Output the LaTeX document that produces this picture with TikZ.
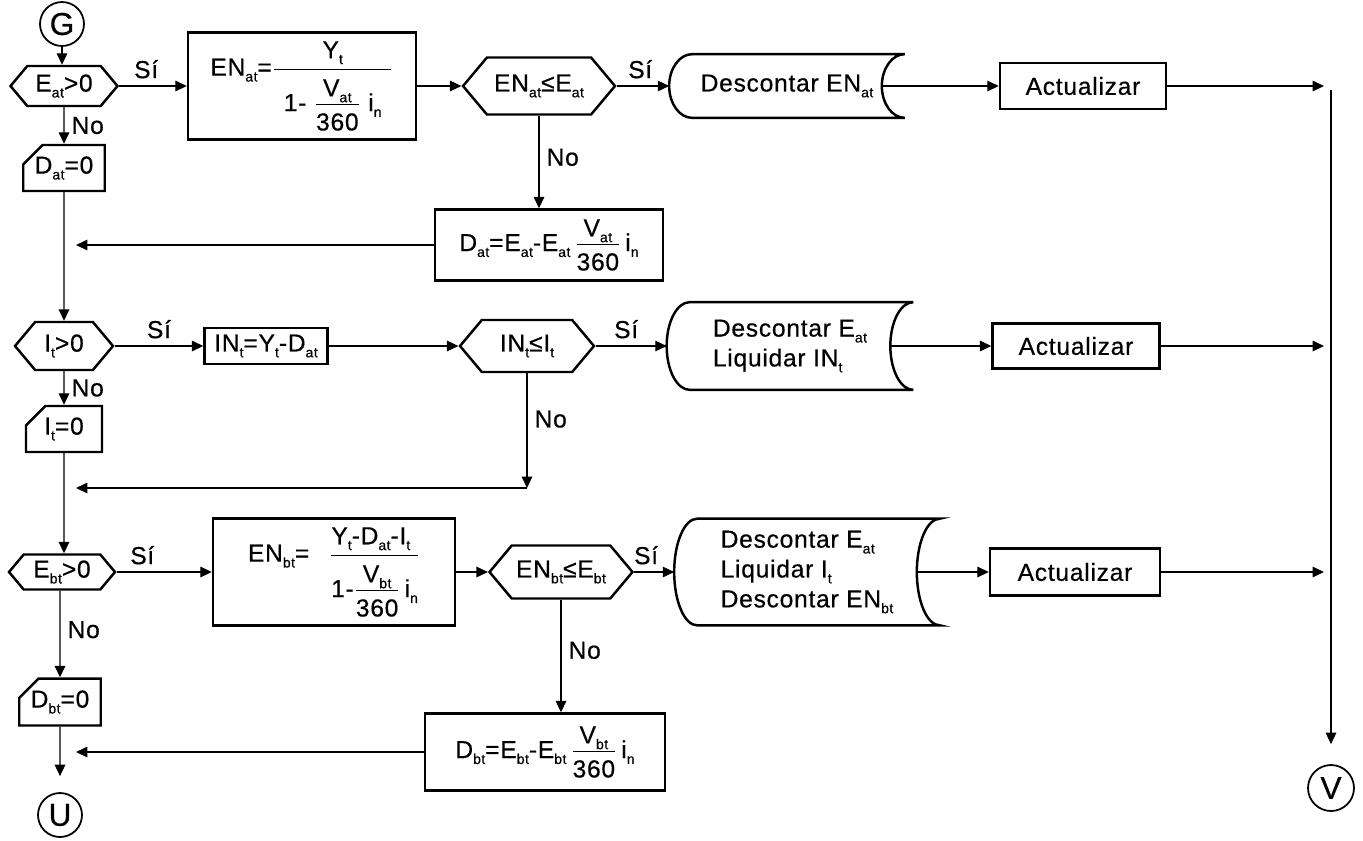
\documentclass[tikz,border=0pt]{standalone}
\usepackage{fontspec}
\setmainfont{Liberation Sans}[LetterSpace=3, FakeBold=0.5]
\usetikzlibrary{shapes.symbols,shapes.misc,arrows.meta,calc}

\newcommand{\sbs}[1]{\raisebox{-0.45ex}{\fontsize{8}{9}\selectfont #1}}
\newcommand{\frc}[2]{\ensuremath{\frac{\mbox{#1\rule[-0.3em]{0pt}{0pt}}}{\mbox{\rule{0pt}{1.0em}#2}}}}
\newcommand{\bigfrc}[2]{\ensuremath{\displaystyle\frac{\mbox{#1\rule[-0.35em]{0pt}{0pt}}}{\mbox{\rule{0pt}{1.6em}#2}}}}
% outline of a stored-data box around a plain node
\newcommand{\drawstored}[1]{%
  \draw[outline] let \p1=(#1.north east), \p2=(#1.south west),
      \n1={(\y1-\y2)/2} in
    (\x2+0.46cm,\y1) -- (\x1,\y1)
    arc[start angle=90, end angle=270, x radius=0.46cm, y radius=\n1]
    -- (\x2+0.46cm,\y2)
    arc[start angle=270, end angle=90, x radius=0.46cm, y radius=\n1];}

\tikzset{
  outline/.style={line width=1.4pt},
  flow/.style={line width=0.7pt, -{Triangle[length=6.5pt,width=6pt]}},
  conn/.style={circle, draw, line width=1pt, minimum size=0.88cm, inner sep=0pt,
    font=\fontsize{18}{20}\selectfont},
  decision/.style={signal, signal to=east and west, signal pointer angle=100,
    draw, outline, inner sep=1pt},
  proc/.style={rectangle, draw, outline, inner sep=2pt},
  card/.style={chamfered rectangle, chamfered rectangle corners=north west,
    chamfered rectangle xsep=5.5pt, chamfered rectangle ysep=5.5pt,
    draw, outline, inner sep=1pt},
  stored/.style={align=left, inner sep=0pt},
  lbl/.style={inner sep=4pt}
}

\begin{document}
\begin{tikzpicture}[x=0.02cm, y=-0.02cm,
  every node/.style={font=\fontsize{14}{17}\selectfont}]
\useasboundingbox (0,0) rectangle (1363,840);

\coordinate (lx) at (76,0);
\coordinate (rx) at (1324,0);
\coordinate (vtop) at (1331,90);

% --- Row 1: E_at ---
\node[conn] (G) at (62,24) {G};
\node[decision, minimum width=2.14cm, minimum height=0.8cm] (hexA1) at (64,86) {E\sbs{at}>0};
\node[card, minimum width=1.56cm, minimum height=0.86cm] (cardA1) at (64,168) {D\sbs{at}=0};
\node[proc, minimum width=4.56cm, minimum height=2.14cm] (boxEN1) at (302,86)
  {EN\sbs{at}=\bigfrc{Y\sbs{t}}{\hspace{0.4em}1- \frc{V\sbs{at}}{360} i\sbs{n}\hspace{0.4em}}};
\node[decision, minimum width=3.04cm, minimum height=1.14cm] (hexB1) at (539,86) {EN\sbs{at}≤E\sbs{at}};
\node[stored, minimum width=4.7cm, minimum height=1.26cm] (sd1) at (787,86) {Descontar EN\sbs{at}};
\node[proc, minimum width=3.32cm, minimum height=0.92cm] (act1) at (1083,86) {Actualizar};
\node[proc, minimum width=4.56cm, minimum height=1.42cm] (boxD1) at (549,245)
  {D\sbs{at}=E\sbs{at}-E\sbs{at}\,\frc{V\sbs{at}}{360}\,i\sbs{n}};

\draw[flow] (G) -- (G |- hexA1.north);
\draw[flow] (hexA1.east) -- node[above, pos=0.4, lbl] {Sí} (boxEN1.west);
\draw[flow] (boxEN1.east) -- (hexB1.west);
\draw[flow] (hexB1.east) -- node[above, pos=0.45, lbl] {Sí} (sd1.west);
\draw[flow] (hexA1) -- node[right, pos=0.5, lbl] {No} (cardA1);
\draw[flow] (hexB1.south) -- node[right, pos=0.45, lbl] {No} (hexB1.south |- boxD1.north);
\draw[flow] (boxD1.west) -- (boxD1.west -| lx);

% --- Row 2: I_t ---
\node[decision, minimum width=1.96cm, minimum height=0.96cm] (hexA2) at (64,346) {I\sbs{t}>0};
\node[card, minimum width=1.52cm, minimum height=0.92cm] (cardA2) at (64,429) {I\sbs{t}=0};
\node[proc, minimum width=2.46cm, minimum height=0.72cm, inner sep=1pt] (boxIN) at (266,346) {IN\sbs{t}=Y\sbs{t}-D\sbs{at}};
\node[decision, minimum width=2.68cm, minimum height=1.04cm] (hexB2) at (527,346) {IN\sbs{t}≤I\sbs{t}};
\node[stored, minimum width=4.92cm, minimum height=1.74cm] (sd2) at (790,346)
  {Descontar E\sbs{at}\\Liquidar IN\sbs{t}};
\node[proc, minimum width=3.34cm, minimum height=0.9cm] (act2) at (1076,346) {Actualizar};
\coordinate (nb2) at (527,488);

\draw[flow] (cardA1) -- (hexA2);
\draw[flow] (hexA2.east) -- node[above, pos=0.5, lbl] {Sí} (boxIN.west);
\draw[flow] (boxIN.east) -- (hexB2.west);
\draw[flow] (hexB2.east) -- node[above, pos=0.43, lbl] {Sí} (sd2.west);
\draw[flow] (hexA2) -- node[right, pos=0.5, lbl] {No} (cardA2);
\draw[flow] (hexB2.south) -- node[right, pos=0.4, lbl] {No} (nb2);
\draw[flow] (nb2) -- (nb2 -| lx);

% --- Row 3: E_bt ---
\node[decision, minimum width=2.12cm, minimum height=0.7cm] (hexA3) at (62,572) {E\sbs{bt}>0};
\node[proc, minimum width=4.84cm, minimum height=2.14cm] (boxEN3) at (334,572)
  {EN\sbs{bt}=\hspace{0.8em}\bigfrc{Y\sbs{t}-D\sbs{at}-I\sbs{t}\hspace{0.3em}}{1-\frc{V\sbs{bt}}{360}\,i\sbs{n}}};
\node[decision, minimum width=2.86cm, minimum height=1.06cm] (hexB3) at (561,572) {EN\sbs{bt}≤E\sbs{bt}};
\node[stored, minimum width=5.3cm, minimum height=2.12cm] (sd3) at (807,572)
  {Descontar E\sbs{at}\\Liquidar I\sbs{t}\\Descontar EN\sbs{bt}};
\node[proc, minimum width=3.4cm, minimum height=0.94cm] (act3) at (1075,572) {Actualizar};

\draw[flow] (cardA2) -- (cardA2 |- hexA3.north);
\draw[flow] (hexA3.east) -- node[above, pos=0.27, lbl] {Sí} (boxEN3.west);
\draw[flow] (boxEN3.east) -- (hexB3.west);
\draw[flow] (hexB3.east) -- node[above, pos=0.3, lbl] {Sí} (sd3.west);

% --- Row 4: D_bt and exits ---
\node[card, minimum width=1.48cm, minimum height=0.94cm] (cardA4) at (60,702) {D\sbs{bt}=0};
\node[proc, minimum width=4.8cm, minimum height=1.54cm] (boxD3) at (545,752)
  {D\sbs{bt}=E\sbs{bt}-E\sbs{bt}\,\frc{V\sbs{bt}}{360}\,i\sbs{n}};
\node[conn] (U) at (60,815) {U};
\node[conn, minimum size=0.92cm] (V) at (1331,788) {V};

\draw[flow] (hexA3.south -| cardA4) -- node[right, pos=0.45, lbl] {No} (cardA4);
\draw[flow] (hexB3.south) -- node[right, pos=0.45, lbl] {No} (hexB3.south |- boxD3.north);
\draw[flow] (boxD3.west) -- (boxD3.west -| lx);
\draw[flow, shorten >=0.32cm] (cardA4) -- (U);

% --- stored boxes, updates and right column ---
\foreach \row in {1,2,3} {
  \drawstored{sd\row}
  \draw[flow] ([xshift=-0.46cm]sd\row.east) -- (act\row.west);
  \draw[flow] (act\row.east) -- (act\row.east -| rx);
}
\draw[flow, shorten >=0.4cm] (vtop) -- (V);

\end{tikzpicture}
\end{document}
